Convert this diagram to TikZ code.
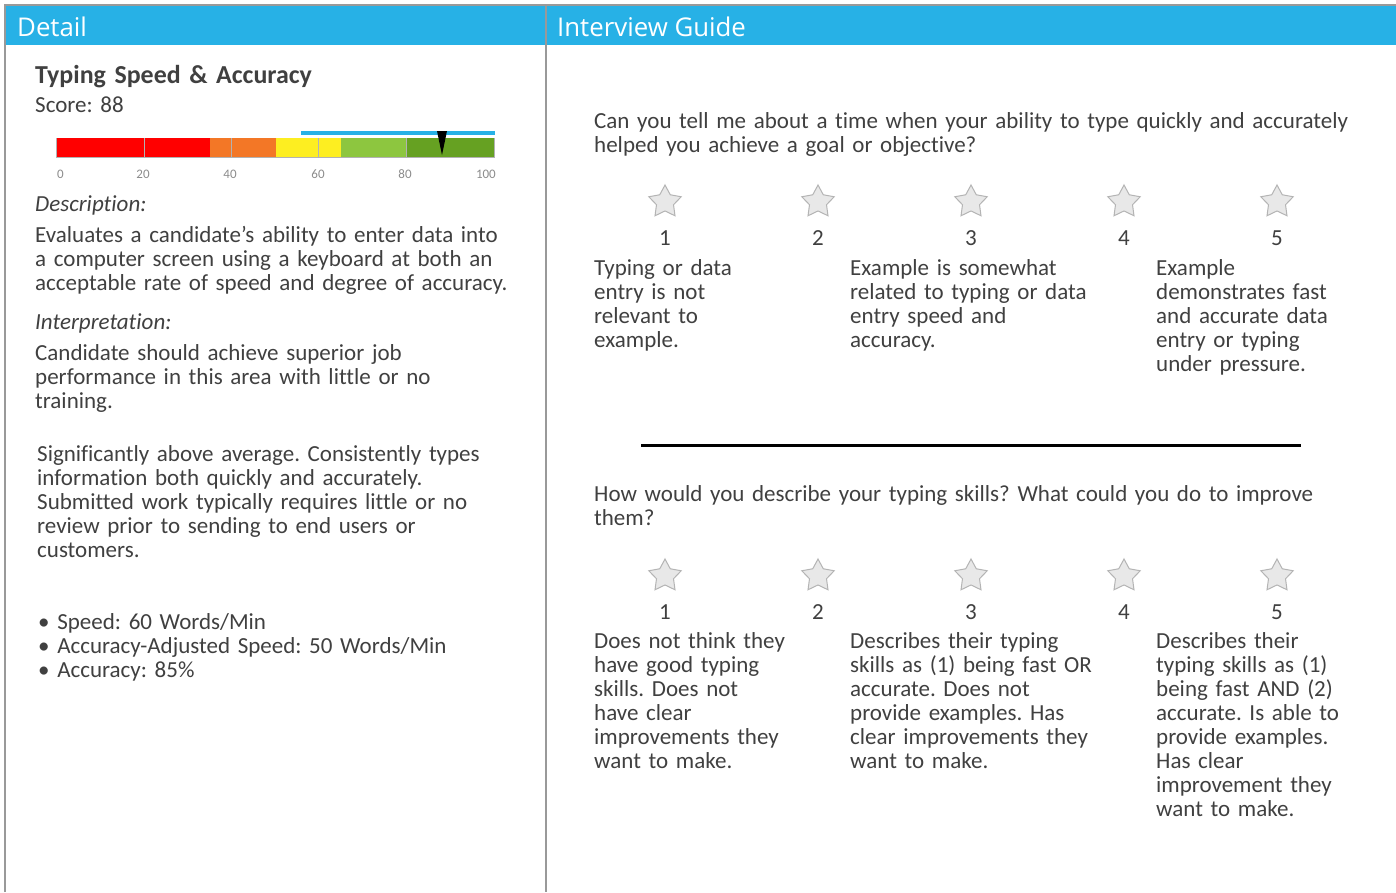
\documentclass[tikz,border=0pt]{standalone}
\usepackage{fontspec}
\setmainfont{Carlito}[RawFeature=-liga]
\newfontfamily\hdrfont{Open Sans}
\usetikzlibrary{shapes.geometric}
\frenchspacing
\definecolor{hdrblue}{HTML}{27B1E6}
\definecolor{txt}{HTML}{404040}
\definecolor{bordergray}{HTML}{999999}
\definecolor{cred}{HTML}{FF0000}
\definecolor{corange}{HTML}{F37726}
\definecolor{cyellow}{HTML}{FDEE21}
\definecolor{clgreen}{HTML}{8DC63F}
\definecolor{cdgreen}{HTML}{66A122}
\definecolor{starfill}{HTML}{E8E8E8}
\definecolor{starline}{HTML}{B4B4B4}
\definecolor{ticklbl}{HTML}{8C8C8C}
\tikzset{
  body/.style={anchor=base west, inner sep=0pt, align=left, text width=800pt, text=txt,
    font=\fontsize{23}{24}\selectfont},
  hdr/.style={anchor=base west, inner sep=0pt, text=white, font=\hdrfont\fontsize{25.8}{30}\selectfont},
  rating/.style={star, star points=5, star point ratio=1.9, minimum size=34pt, inner sep=0pt,
    draw=starline, fill=starfill, line width=1pt},
  num/.style={anchor=base, inner sep=0pt, text=txt, font=\fontsize{23}{24}\selectfont},
  tick/.style={anchor=base, inner sep=0pt, text=ticklbl, font=\fontsize{13}{14}\selectfont},
}
\begin{document}
\begin{tikzpicture}[x=1pt,y=-1pt]
\useasboundingbox (0,0) rectangle (1396,892);
\fill[white] (0,0) rectangle (1396,892);
% header band
\fill[hdrblue] (5,5) rectangle (1396,45);
\draw[bordergray, line width=2pt] (5,892) -- (5,5) -- (1396,5);
\draw[bordergray, line width=2pt] (546,5) -- (546,892);
\node[hdr] (hd1) at (17,36) {Detail};
\node[hdr] (hd2) at (557,36) {Interview Guide};

% left panel
\node[body, font=\bfseries\fontsize{25.9}{28}\selectfont] (title) at (35,83) {Typing Speed \& Accuracy};
\node[body] (score) at (35,112) {Score: 88};

% score bar
\fill[cred] (57,138) rectangle (210,157);
\fill[corange] (210,138) rectangle (276,157);
\fill[cyellow] (276,138) rectangle (341,157);
\fill[clgreen] (341,138) rectangle (407,157);
\fill[cdgreen] (407,138) rectangle (494,157);
\foreach \xx in {144,231,318,406} \draw[gray!60, line width=1pt] (\xx,138) -- (\xx,157);
\draw[gray!60, line width=1.2pt] (56.5,138) -- (56.5,157.5) -- (494.5,157.5) -- (494.5,138);
\fill[hdrblue] (301,131) rectangle (495,135);
\fill[black] (437,131) -- (447,131) -- (442,155) -- cycle;
\node[tick, anchor=base west] (t0) at (57,178) {0};
\node[tick] (t20) at (143,178) {20};
\node[tick] (t40) at (230,178) {40};
\node[tick] (t60) at (318,178) {60};
\node[tick] (t80) at (405,178) {80};
\node[tick, anchor=base east] (t100) at (496,178) {100};

\node[body, font=\itshape\fontsize{23}{24}\selectfont] (dlab) at (35,211) {Description:};
\node[body] (desc) at (35,242) {Evaluates a candidate's ability to enter data into\\a computer screen using a keyboard at both an\\acceptable rate of speed and degree of accuracy.};
\node[body, font=\itshape\fontsize{23}{24}\selectfont] (ilab) at (35,329) {Interpretation:};
\node[body] (interp) at (35,360) {Candidate should achieve superior job\\performance in this area with little or no\\training.};
\node[body] (lvl) at (37,461) {Significantly above average. Consistently types\\information both quickly and accurately.\\Submitted work typically requires little or no\\review prior to sending to end users or\\customers.};
\node[body] (bul) at (38,629) {\textbullet\ Speed: 60 Words/Min\\\textbullet\ Accuracy-Adjusted Speed: 50 Words/Min\\\textbullet\ Accuracy: 85\%};

% right panel, question 1
\node[body] (q1) at (594,128) {Can you tell me about a time when your ability to type quickly and accurately\\helped you achieve a goal or objective?};
\foreach \i/\xx in {1/665,2/818,3/971,4/1124,5/1277} {
  \node[rating] (s1\i) at (\xx,202) {};
  \node[num] (n1\i) at (\xx,245) {\i};
}
\node[body] (a11) at (594,275) {Typing or data\\entry is not\\relevant to\\example.};
\node[body] (a13) at (850,275) {Example is somewhat\\related to typing or data\\entry speed and\\accuracy.};
\node[body] (a15) at (1156,275) {Example\\demonstrates fast\\and accurate data\\entry or typing\\under pressure.};

\coordinate (sepL) at (641,445);
\coordinate (sepR) at (1301,445);
\draw[black, line width=3pt] (sepL) -- (sepR);

% question 2
\node[body] (q2) at (594,501) {How would you describe your typing skills? What could you do to improve\\them?};
\foreach \i/\xx in {1/665,2/818,3/971,4/1124,5/1277} {
  \node[rating] (s2\i) at (\xx,576) {};
  \node[num] (n2\i) at (\xx,619) {\i};
}
\node[body] (a21) at (594,648) {Does not think they\\have good typing\\skills. Does not\\have clear\\improvements they\\want to make.};
\node[body] (a23) at (850,648) {Describes their typing\\skills as (1) being fast OR\\accurate. Does not\\provide examples. Has\\clear improvements they\\want to make.};
\node[body] (a25) at (1156,648) {Describes their\\typing skills as (1)\\being fast AND (2)\\accurate. Is able to\\provide examples.\\Has clear\\improvement they\\want to make.};
\end{tikzpicture}
\end{document}
